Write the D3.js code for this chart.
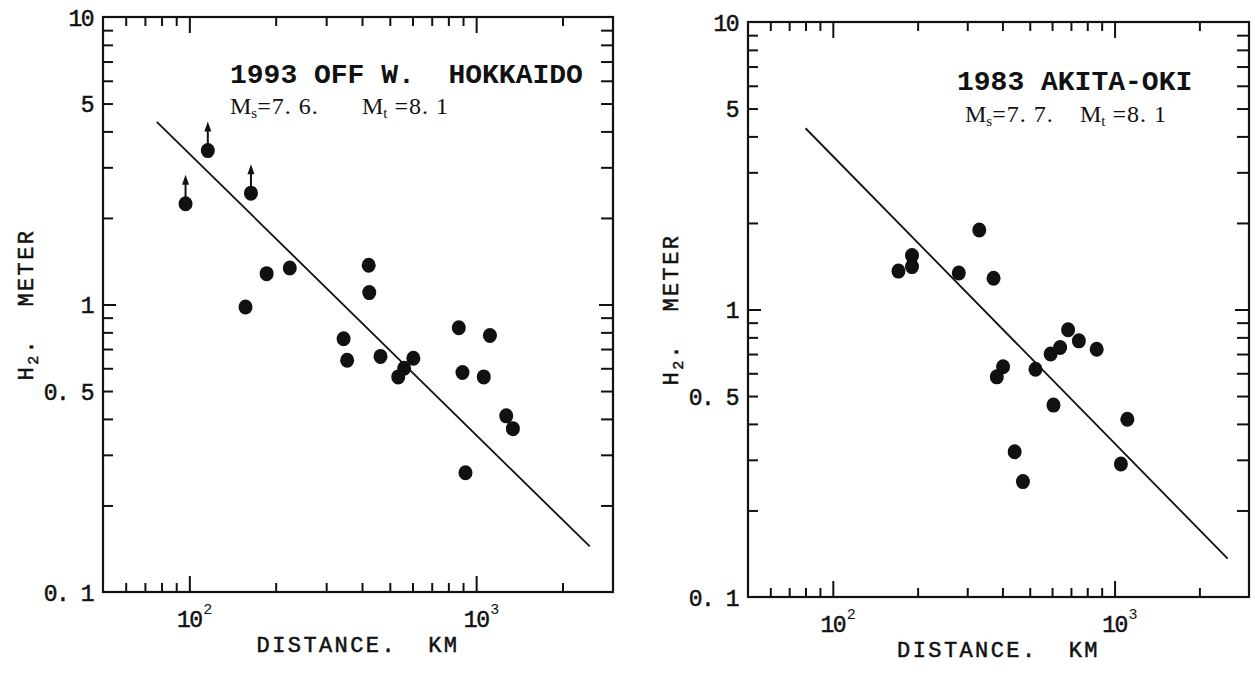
<!DOCTYPE html>
<html>
<head>
<meta charset="utf-8">
<script src="https://cdn.jsdelivr.net/npm/d3@7"></script>
<style>
  body { margin: 0; background: #fff; }
  svg { display: block; }
  text { fill: #111; }
  .ink { stroke: #111; stroke-width: 0.5px; }
</style>
</head>
<body>
<script>
// 1993 off W. Hokkaido : distance (km) vs H2 (m); first three are lower bounds (arrows)
var hokDist   = [97, 116, 164, 157, 186, 224, 422, 424, 345, 355, 464, 535, 561, 604, 870, 1117, 896, 1063, 1273, 1343, 918]
var hokHeight = [2.24, 3.43, 2.44, 0.98, 1.28, 1.34, 1.37, 1.10, 0.76, 0.64, 0.66, 0.56, 0.60, 0.65, 0.83, 0.78, 0.58, 0.56, 0.41, 0.37, 0.26]
var hokArrow  = [1, 1, 1, 0, 0, 0, 0, 0, 0, 0, 0, 0, 0, 0, 0, 0, 0, 0, 0, 0, 0]
var hokFitDist   = [77, 2490]
var hokFitHeight = [4.32, 0.144]

// 1983 Akita-oki
var akiDist   = [171, 191, 191, 280, 331, 372, 684, 747, 641, 593, 864, 402, 382, 524, 607, 1110, 442, 473, 1053]
var akiHeight = [1.36, 1.54, 1.41, 1.34, 1.89, 1.285, 0.85, 0.778, 0.738, 0.70, 0.727, 0.632, 0.583, 0.62, 0.465, 0.415, 0.32, 0.252, 0.29]
var akiArrow  = akiDist.map(d => 0)
var akiFitDist   = [80, 2520]
var akiFitHeight = [4.27, 0.136]

// axes
var xDomain = [50, 3000]
var yDomain = [0.1, 10]
var xMajor = [100, 1000]
var xMajorExp = ["2", "3"]
var yLabelled = [0.1, 0.5, 1, 5, 10]
var yLabels = ["0. 1", "0. 5", "1", "5", "10"]

var panels = [
  {left: 103, top: 17, width: 510, height: 575,
   title: "1993 OFF W.  HOKKAIDO", titleX: 127, titleY: 66,
   ms: "7. 6.", mt: "8. 1", subX: 127, subY: 97, mtGap: 132,
   dist: hokDist, height_: hokHeight, arrow: hokArrow, fitD: hokFitDist, fitH: hokFitHeight},
  {left: 748, top: 22, width: 501, height: 575,
   title: "1983 AKITA-OKI", titleX: 209, titleY: 68,
   ms: "7. 7.", mt: "8. 1", subX: 217, subY: 100, mtGap: 115,
   dist: akiDist, height_: akiHeight, arrow: akiArrow, fitD: akiFitDist, fitH: akiFitHeight}
]

var svg = d3.select("body").append("svg")
    .attr("width", 1255)
    .attr("height", 675)

var mono = "'Liberation Mono', 'DejaVu Sans Mono', monospace"
var serif = "'Liberation Serif', 'DejaVu Serif', serif"

panels.forEach(p => {
  var x = d3.scaleLog().domain(xDomain).range([0, p.width])
  var y = d3.scaleLog().domain(yDomain).range([p.height, 0])

  var g = svg.append("g").attr("transform", "translate(" + p.left + "," + p.top + ")")

  var xMinor = x.ticks().filter(d => d > xDomain[0] && d < xDomain[1] && xMajor.indexOf(d) < 0)
  var yMinor = y.ticks().filter(d => d > yDomain[0] && d < yDomain[1] && d !== 1)

  function tickAxis(axis, cls, tr) {
    var a = g.append("g").attr("class", cls).attr("transform", tr || null).call(axis)
    a.select(".domain").remove()
    a.selectAll(".tick line").attr("stroke", "#111").attr("stroke-width", 2)
    a.selectAll(".tick text").remove()
    return a
  }

  // inward ticks on all four sides
  tickAxis(d3.axisBottom(x).tickValues(xMinor).tickSize(-9), "xb", "translate(0," + p.height + ")")
  tickAxis(d3.axisBottom(x).tickValues(xMajor).tickSize(-16), "xb", "translate(0," + p.height + ")")
  tickAxis(d3.axisTop(x).tickValues(xMinor).tickSize(-9), "xt")
  tickAxis(d3.axisTop(x).tickValues(xMajor).tickSize(-16), "xt")
  tickAxis(d3.axisLeft(y).tickValues(yMinor).tickSize(-10), "yl")
  tickAxis(d3.axisLeft(y).tickValues([1]).tickSize(-13), "yl")
  tickAxis(d3.axisRight(y).tickValues(yMinor).tickSize(-12), "yr", "translate(" + p.width + ",0)")
  tickAxis(d3.axisRight(y).tickValues([1]).tickSize(-14), "yr", "translate(" + p.width + ",0)")

  // frame
  g.append("rect")
    .attr("width", p.width).attr("height", p.height)
    .attr("fill", "none").attr("stroke", "#111").attr("stroke-width", 2.2)

  // y tick labels
  var yl = g.append("g").call(d3.axisLeft(y).tickValues(yLabelled).tickSize(0).tickPadding(10)
      .tickFormat((d, i) => yLabels[i]))
  yl.select(".domain").remove()
  yl.selectAll("text")
    .attr("class", "ink")
    .attr("font-family", mono).attr("font-size", 23).attr("letter-spacing", -1.5)
    .attr("fill", "#111").attr("dy", "0.36em").style("white-space", "pre")

  // x tick labels 10^n
  xMajor.forEach((d, i) => {
    g.append("text")
      .attr("class", "ink")
      .attr("x", x(d)).attr("y", p.height + 35)
      .attr("text-anchor", "middle")
      .attr("font-family", mono).attr("font-size", 23).attr("letter-spacing", -1.5)
      .text("10")
    g.append("text")
      .attr("x", x(d) + 14).attr("y", p.height + 22)
      .attr("font-family", mono).attr("font-size", 15)
      .text(xMajorExp[i])
  })

  // axis titles
  g.append("text")
    .attr("class", "ink")
    .attr("x", p.width / 2).attr("y", p.height + 60)
    .attr("text-anchor", "middle")
    .attr("font-family", mono).attr("font-size", 22).attr("letter-spacing", 2.4)
    .style("white-space", "pre")
    .text("DISTANCE.  KM")

  var yt = g.append("text")
    .attr("class", "ink")
    .attr("transform", "translate(-70," + (p.height / 2) + ") rotate(-90)")
    .attr("text-anchor", "middle")
    .attr("font-family", mono).attr("font-size", 22).attr("letter-spacing", 2.4)
    .style("white-space", "pre")
  yt.append("tspan").text("H")
  yt.append("tspan").attr("font-size", 15).attr("dy", 5).text("2")
  yt.append("tspan").attr("dy", -5).text(".  METER")

  // title + magnitudes
  g.append("text")
    .attr("x", p.titleX).attr("y", p.titleY)
    .attr("font-family", mono).attr("font-size", 28).attr("font-weight", "bold")
    .style("white-space", "pre")
    .text(p.title)

  var s1 = g.append("text").attr("x", p.subX).attr("y", p.subY)
    .attr("font-family", serif).attr("font-size", 24).style("white-space", "pre")
  s1.append("tspan").text("M")
  s1.append("tspan").attr("font-size", 15).attr("dy", 4).text("s")
  s1.append("tspan").attr("dy", -4).attr("letter-spacing", 1).text("=7. " + p.ms.slice(3))
  var s2 = g.append("text").attr("x", p.subX + p.mtGap).attr("y", p.subY)
    .attr("font-family", serif).attr("font-size", 24).style("white-space", "pre")
  s2.append("tspan").text("M")
  s2.append("tspan").attr("font-size", 15).attr("dy", 4).text("t")
  s2.append("tspan").attr("dy", -4).attr("letter-spacing", 1).text(" =" + p.mt)

  // fitted line
  var fit = p.fitD.map((d, i) => [d, p.fitH[i]])
  g.append("path")
    .attr("d", d3.line().x(d => x(d[0])).y(d => y(d[1]))(fit))
    .attr("fill", "none").attr("stroke", "#111").attr("stroke-width", 1.8)

  // observations
  var pts = p.dist.map((d, i) => ({d: d, h: p.height_[i], a: p.arrow[i]}))
  g.selectAll(".dot").data(pts).enter().append("ellipse")
    .attr("class", "dot")
    .attr("cx", d => x(d.d)).attr("cy", d => y(d.h))
    .attr("rx", 7).attr("ry", 7.5)
    .attr("fill", "#111")

  var up = pts.filter(d => d.a)
  g.selectAll(".arrow").data(up).enter().append("line")
    .attr("x1", d => x(d.d)).attr("x2", d => x(d.d))
    .attr("y1", d => y(d.h) - 6).attr("y2", d => y(d.h) - 20)
    .attr("stroke", "#111").attr("stroke-width", 2)
  g.selectAll(".head").data(up).enter().append("path")
    .attr("d", d => {
      var cx = x(d.d), cy = y(d.h)
      return "M" + (cx - 3.5) + "," + (cy - 19) + "L" + cx + "," + (cy - 29) + "L" + (cx + 3.5) + "," + (cy - 19) + "Z"
    })
    .attr("fill", "#111")
})
</script>
</body>
</html>
